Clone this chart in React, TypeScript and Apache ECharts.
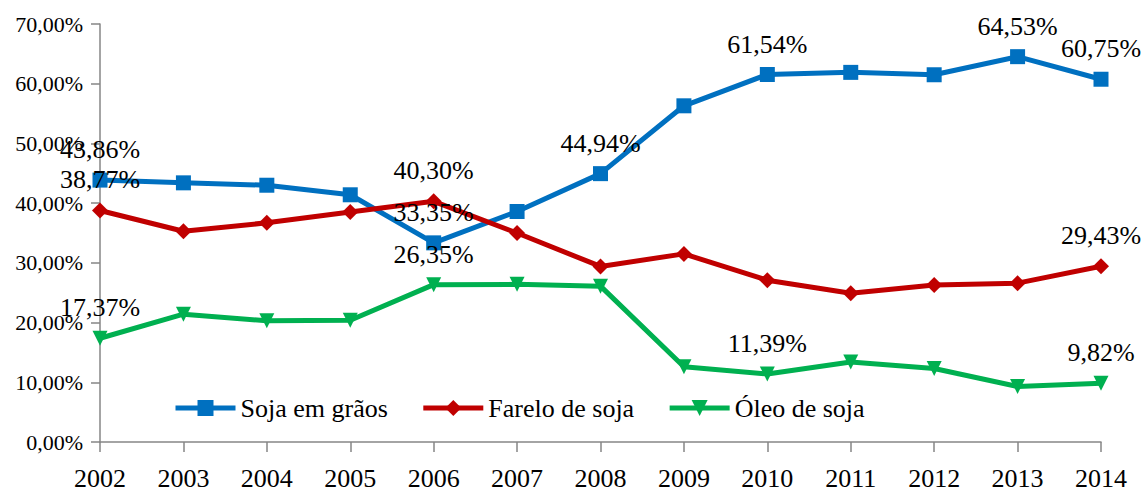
import React, { useEffect, useRef } from "react";
import * as echarts from "echarts";

const years = ["2002", "2003", "2004", "2005", "2006", "2007", "2008", "2009", "2010", "2011", "2012", "2013", "2014"];
const sojaGraos = [43.86, 43.4, 43.0, 41.4, 33.35, 38.6, 44.94, 56.3, 61.54, 61.9, 61.5, 64.53, 60.75];
const fareloSoja = [38.77, 35.3, 36.7, 38.5, 40.3, 35.0, 29.4, 31.5, 27.1, 24.9, 26.3, 26.6, 29.43];
const oleoSoja = [17.37, 21.4, 20.3, 20.4, 26.35, 26.4, 26.1, 12.6, 11.39, 13.4, 12.3, 9.3, 9.82];
const sojaLabelled = [0, 4, 6, 8, 11, 12];
const fareloLabelled = [0, 4, 12];
const oleoLabelled = [0, 4, 8, 12];
const seriesNames = ["Soja em grãos", "Farelo de soja", "Óleo de soja"];

const FONT = "Liberation Serif, Times New Roman, serif";
const fmt = (v: number) => v.toFixed(2).replace(".", ",") + "%";

function build(values: number[], labelled: number[]) {
  return values.map((v, i) => ({
    value: v,
    label: { show: labelled.includes(i) },
  }));
}

export default function App() {
  const ref = useRef<HTMLDivElement>(null);
  useEffect(() => {
    document.body.style.margin = "0";
    const chart = echarts.init(ref.current!, null, { renderer: "svg" });
    const mkSeries = (name: string, data: any[], color: string, symbol: string, size: number) => ({
      name,
      type: "line",
      data,
      symbol,
      symbolSize: size,
      color,
      lineStyle: { width: 5, color },
      itemStyle: { color },
      label: {
        show: false,
        position: "top",
        distance: 10,
        fontFamily: FONT,
        fontSize: 26,
        color: "#000",
        formatter: (p: any) => fmt(p.value),
      },
      z: 2,
    });
    chart.setOption({
      animation: false,
      backgroundColor: "#fff",
      textStyle: { fontFamily: FONT },
      grid: { left: 100, right: 46, top: 24, bottom: 53, containLabel: false },
      legend: {
        data: seriesNames,
        left: 168,
        top: 390,
        itemWidth: 60,
        itemHeight: 20,
        itemGap: 33,
        lineStyle: { width: 5 },
        textStyle: { fontFamily: FONT, fontSize: 26, color: "#000" },
      },
      xAxis: {
        type: "category",
        data: years,
        boundaryGap: false,
        axisLine: { lineStyle: { color: "#868686", width: 1.5 } },
        axisTick: { show: true, length: 10, lineStyle: { color: "#868686", width: 1.5 } },
        axisLabel: { fontFamily: FONT, fontSize: 26, color: "#000", margin: 23 },
        splitLine: { show: false },
      },
      yAxis: {
        type: "value",
        min: 0,
        max: 70,
        interval: 10,
        axisLine: { show: true, lineStyle: { color: "#868686", width: 1.5 } },
        axisTick: { show: true, length: 9, lineStyle: { color: "#868686", width: 1.5 } },
        axisLabel: { fontFamily: FONT, fontSize: 22, color: "#000", margin: 17, formatter: (v: number) => fmt(v) },
        splitLine: { show: false },
      },
      series: [
        mkSeries(seriesNames[0], build(sojaGraos, sojaLabelled), "#0070C0", "rect", 15),
        mkSeries(seriesNames[1], build(fareloSoja, fareloLabelled), "#C00000", "diamond", 16),
        mkSeries(seriesNames[2], build(oleoSoja, oleoLabelled), "#00B050", "path://M0,0 L10,0 L5,9 Z", 15),
      ],
    });
    return () => chart.dispose();
  }, []);
  return <div ref={ref} style={{ width: 1147, height: 495 }} />;
}
